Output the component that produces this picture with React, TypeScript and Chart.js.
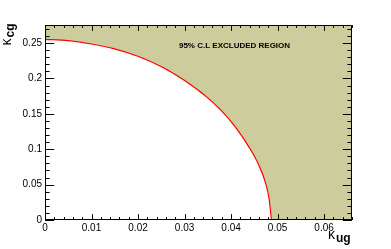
import React, { useEffect, useRef } from "react";
import { Chart, registerables } from "chart.js";

Chart.register(...registerables);

// Boundary of the 95% C.L. excluded region
const kappaUg = [0, 0.005, 0.01, 0.015, 0.02, 0.025, 0.03, 0.035, 0.038, 0.041, 0.044, 0.046, 0.0475, 0.0483, 0.0488];
const kappaCg = [0.256, 0.2543, 0.2495, 0.2425, 0.232, 0.2175, 0.198, 0.1735, 0.155, 0.132, 0.103, 0.079, 0.053, 0.03, 0];

const xTicks = [0, 0.01, 0.02, 0.03, 0.04, 0.05, 0.06];
const yTicks = [0, 0.05, 0.1, 0.15, 0.2, 0.25];
const xMinorStep = 0.002;
const yMinorStep = 0.01;
const X_MAX = 0.066;
const Y_MAX = 0.2755;

const regionLabel = "95% C.L EXCLUDED REGION";
const labelX = 0.0288;
const labelY = 0.2435;

const FILL = "rgb(204,204,156)";

export default function App() {
  const ref = useRef<HTMLCanvasElement | null>(null);

  useEffect(() => {
    document.body.style.margin = "0";
    const canvas = ref.current!;
    const curve = kappaUg.map((x, i) => ({ x, y: kappaCg[i] }));
    const lastX = kappaUg[kappaUg.length - 1];
    const rightBlock = [
      { x: lastX, y: 0 },
      { x: X_MAX, y: 0 },
    ];

    const framePlugin = {
      id: "rootFrame",
      afterDraw(chart: any) {
        const { ctx, chartArea } = chart;
        const xs = chart.scales.x;
        const ys = chart.scales.y;
        const { left, right, top, bottom } = chartArea;
        const w = right - left;
        const h = bottom - top;
        ctx.save();
        ctx.strokeStyle = "#000";
        ctx.lineWidth = 1;
        ctx.beginPath();
        ctx.rect(left + 0.5, top + 0.5, w - 1, h - 1);
        ctx.stroke();

        const xMaj = 0.03 * h;
        const yMaj = 0.03 * w;
        ctx.beginPath();
        for (let i = 0; i * xMinorStep <= X_MAX + 1e-9; i++) {
          const v = i * xMinorStep;
          const px = Math.round(xs.getPixelForValue(v)) + 0.5;
          const len = i % 5 === 0 ? xMaj : xMaj / 2;
          ctx.moveTo(px, bottom);
          ctx.lineTo(px, bottom - len);
          ctx.moveTo(px, top);
          ctx.lineTo(px, top + len);
        }
        for (let i = 0; i * yMinorStep <= Y_MAX + 1e-9; i++) {
          const v = i * yMinorStep;
          const py = Math.round(ys.getPixelForValue(v)) + 0.5;
          const len = i % 5 === 0 ? yMaj : yMaj / 2;
          ctx.moveTo(left, py);
          ctx.lineTo(left + len, py);
          ctx.moveTo(right, py);
          ctx.lineTo(right - len, py);
        }
        ctx.stroke();

        ctx.fillStyle = "#000";
        ctx.font = "bold 8px 'Liberation Sans', Arial, sans-serif";
        ctx.textAlign = "left";
        ctx.textBaseline = "alphabetic";
        ctx.fillText(regionLabel, xs.getPixelForValue(labelX), ys.getPixelForValue(labelY));

        ctx.font = "14px 'Liberation Sans', Arial, sans-serif";
        ctx.fillText("κ", 328, 238.5);
        ctx.font = "bold 12px 'Liberation Sans', Arial, sans-serif";
        ctx.fillText("ug", 336, 241.5);

        ctx.rotate(-Math.PI / 2);
        ctx.font = "14px 'Liberation Sans', Arial, sans-serif";
        ctx.fillText("κ", -45.5, 10.5);
        ctx.font = "bold 12px 'Liberation Sans', Arial, sans-serif";
        ctx.fillText("cg", -37.5, 13.5);
        ctx.restore();
      },
    };

    const tickFont = { family: "'Liberation Sans', Arial, sans-serif", size: 10 };

    const chart = new Chart(canvas, {
      type: "line",
      data: {
        datasets: [
          {
            data: curve,
            borderWidth: 0,
            borderColor: "rgba(0,0,0,0)",
            backgroundColor: FILL,
            fill: "end",
            pointRadius: 0,
            cubicInterpolationMode: "monotone",
          },
          {
            data: rightBlock,
            borderWidth: 0,
            borderColor: "rgba(0,0,0,0)",
            backgroundColor: FILL,
            fill: "end",
            pointRadius: 0,
            tension: 0,
          },
          {
            data: curve,
            borderWidth: 2.3,
            borderColor: "#ff0000",
            fill: false,
            pointRadius: 0,
            cubicInterpolationMode: "monotone",
          },
        ],
      },
      options: {
        animation: false,
        responsive: false,
        events: [],
        layout: { padding: { left: 0, top: 25, right: 39, bottom: 0 } },
        plugins: { legend: { display: false }, tooltip: { enabled: false } },
        scales: {
          x: {
            type: "linear",
            min: 0,
            max: X_MAX,
            grid: { display: false, drawTicks: false },
            border: { display: false },
            ticks: {
              font: tickFont,
              color: "#000",
              padding: 2,
              maxRotation: 0,
              autoSkip: false,
              includeBounds: false,
              callback: (v: any) => String(v),
            },
            afterBuildTicks: (s: any) => {
              s.ticks = xTicks.map((value) => ({ value }));
            },
            afterFit: (s: any) => {
              s.height = 29;
            },
          },
          y: {
            type: "linear",
            min: 0,
            max: Y_MAX,
            grid: { display: false, drawTicks: false },
            border: { display: false },
            ticks: {
              font: tickFont,
              color: "#000",
              padding: 3,
              autoSkip: false,
              includeBounds: false,
              callback: (v: any) => String(v),
            },
            afterBuildTicks: (s: any) => {
              s.ticks = yTicks.map((value) => ({ value }));
            },
            afterFit: (s: any) => {
              s.width = 45;
            },
          },
        },
      },
      plugins: [framePlugin],
    } as any);
    return () => chart.destroy();
  }, []);

  return (
    <div style={{ position: "absolute", left: 0, top: 0, width: 391, height: 249, background: "#fff" }}>
      <canvas ref={ref} width={391} height={249} style={{ width: 391, height: 249, display: "block" }} />
    </div>
  );
}
